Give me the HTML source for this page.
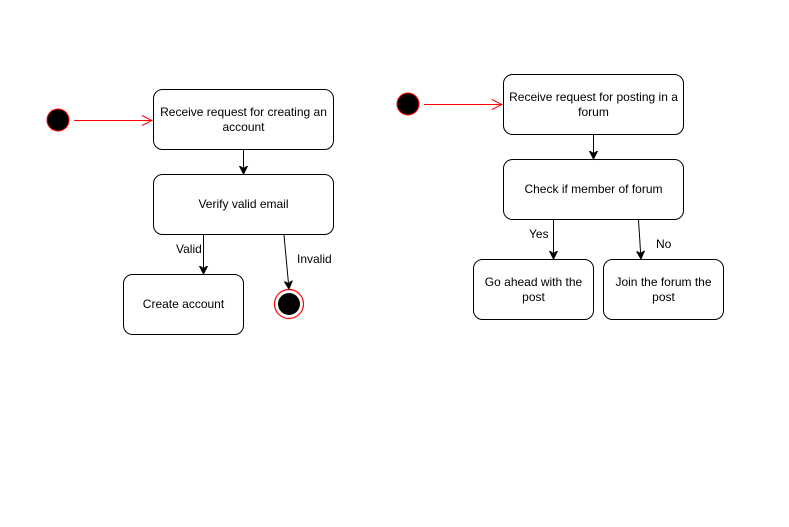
<!DOCTYPE html>
<html><head><style>
html,body{margin:0;padding:0;background:#fff;}
svg text{font-family:"Liberation Sans",Arial,sans-serif;font-size:12px;fill:#000;}
</style></head><body>
<svg width="789" height="522" viewBox="0 0 789 522" xmlns="http://www.w3.org/2000/svg">
<defs>
<marker id="ab" markerWidth="10" markerHeight="10" refX="8" refY="5" orient="auto" markerUnits="userSpaceOnUse">
<path d="M0,1 L8,5 L0,9 L2.5,5 Z" fill="#000" stroke="#000" stroke-width="1"/></marker>
<marker id="ar" markerWidth="12" markerHeight="12" refX="11" refY="6" orient="auto" markerUnits="userSpaceOnUse">
<path d="M1,1 L11,6 L1,11" fill="none" stroke="#f00" stroke-width="1"/></marker>
</defs>
<g fill="#fff" stroke="#000" stroke-width="1">
<rect x="153.5" y="89.5" width="180" height="60" rx="9"/>
<rect x="153.5" y="174.5" width="180" height="60" rx="9"/>
<rect x="123.5" y="274.5" width="120" height="60" rx="9"/>
<rect x="503.5" y="74.5" width="180" height="60" rx="9"/>
<rect x="503.5" y="159.5" width="180" height="60" rx="9"/>
<rect x="473.5" y="259.5" width="120" height="60" rx="9"/>
<rect x="603.5" y="259.5" width="120" height="60" rx="9"/>
</g>
<circle cx="58" cy="120" r="11" fill="#000" stroke="#f00" stroke-width="1"/>
<circle cx="408" cy="104" r="11" fill="#000" stroke="#f00" stroke-width="1"/>
<circle cx="289" cy="304" r="14.5" fill="#fff" stroke="#f00" stroke-width="1.2"/>
<circle cx="289" cy="304" r="11" fill="#000"/>
<line x1="74" y1="120.5" x2="152" y2="120.5" stroke="#f00" marker-end="url(#ar)"/>
<line x1="424" y1="104.5" x2="502" y2="104.5" stroke="#f00" marker-end="url(#ar)"/>
<g stroke="#000" stroke-width="1">
<line x1="243.5" y1="150" x2="243.5" y2="174" marker-end="url(#ab)"/>
<line x1="203.5" y1="235" x2="203.5" y2="274" marker-end="url(#ab)"/>
<line x1="284" y1="235" x2="289" y2="289" marker-end="url(#ab)"/>
<line x1="593.5" y1="135" x2="593.5" y2="159" marker-end="url(#ab)"/>
<line x1="553.5" y1="220" x2="553.5" y2="259" marker-end="url(#ab)"/>
<line x1="638.5" y1="220" x2="641" y2="259" marker-end="url(#ab)"/>
</g>
<g text-anchor="middle">
<text x="243.5" y="116">Receive request for creating an</text>
<text x="243.5" y="131">account</text>
<text x="243.5" y="208">Verify valid email</text>
<text x="183.5" y="308">Create account</text>
<text x="593.5" y="101">Receive request for posting in a</text>
<text x="593.5" y="116">forum</text>
<text x="593.5" y="193">Check if member of forum</text>
<text x="533.5" y="286">Go ahead with the</text>
<text x="533.5" y="301">post</text>
<text x="663.5" y="286">Join the forum the</text>
<text x="663.5" y="301">post</text>
</g>
<text x="176" y="253">Valid</text>
<text x="297" y="263">Invalid</text>
<text x="529" y="238">Yes</text>
<text x="656" y="248">No</text>
</svg>
</body></html>
